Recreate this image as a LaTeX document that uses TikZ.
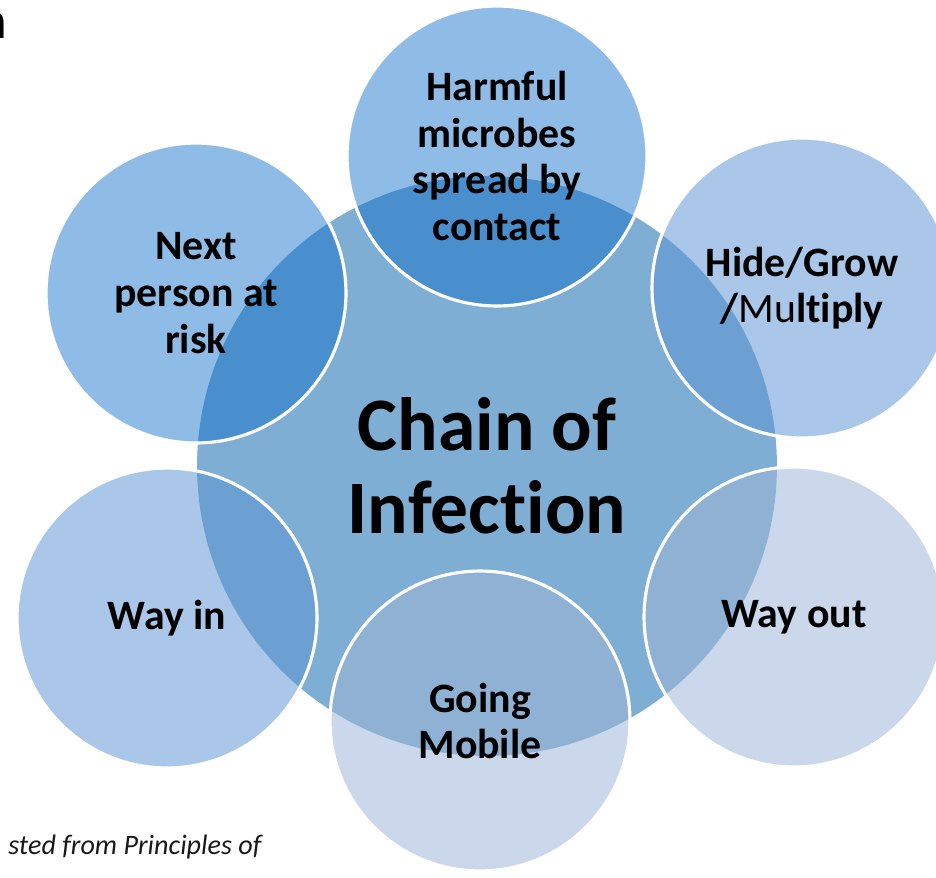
\documentclass[tikz,border=0pt]{standalone}
\usepackage{fontspec}
\setmainfont{Carlito}[Ligatures=NoCommon]
\usepackage{tikz}
\usetikzlibrary{positioning}
\definecolor{corCentro}{RGB}{127,174,212}
\definecolor{corA}{RGB}{143,188,231}
\definecolor{sobA}{RGB}{74,143,205}
\definecolor{corB}{RGB}{170,199,233}
\definecolor{sobB}{RGB}{108,160,210}
\definecolor{corC}{RGB}{203,216,236}
\definecolor{sobC}{RGB}{143,178,212}
\tikzset{
    elo/.style={
        circle,
        inner sep=0pt,
        minimum size=6cm
    },
    borda/.style={draw=white, line width=1.8pt},
    rotulo/.style={
        align=center,
        font=\fontsize{23.8}{26.6}\selectfont\bfseries
    },
    titulo/.style={
        align=center,
        font=\fontsize{43}{47}\selectfont\bfseries
    },
    nota/.style={font=\fontsize{16}{18}\selectfont\itshape, text=black!90}
}

\begin{document}
\begin{tikzpicture}[x=0.02cm, y=-0.02cm]
        \useasboundingbox (0,0) rectangle (936,877);

        % circulo central
        \node[elo, minimum size=11.6cm, fill=corCentro] (cadeia) at (487,466) {};

        % elos da cadeia
        \foreach \nome/\px/\py/\cor/\sob/\texto in {
            harmful/497/156/corA/sobA/{Harmful\\microbes\\spread by\\contact},
            hide/802/288/corB/sobB/{Hide/Grow\\/{\mdseries Mu}ltiply},
            wayout/794/617/corC/sobC/{Way out},
            going/480/721/corC/sobC/{Going\\Mobile},
            wayin/167/618/corB/sobB/{Way in},
            next/196/293/corA/sobA/{Next\\person at\\risk}}
        {
            \node[elo, fill=\cor] (\nome) at (\px,\py) {};
            \begin{scope}
                \clip (\nome.center) circle (3cm);
                \fill[\sob] (cadeia.center) circle (5.8cm);
            \end{scope}
            \draw[borda] (\nome.center) circle (3cm);
            \node[rotulo] (\nome-txt) at (\nome.center) {\texto};
        }

        \node[titulo] (cadeia-txt) at (cadeia.center) {Chain of\\Infection};

        % textos cortados nas margens
        \node[anchor=base east, font=\fontsize{30}{30}\selectfont\bfseries, inner sep=0pt] (resto) at (7,38) {n};
        \node[nota, anchor=base west, inner sep=0pt] (fonte) at (8,854) {sted from Principles of};
    \end{tikzpicture}
\end{document}
